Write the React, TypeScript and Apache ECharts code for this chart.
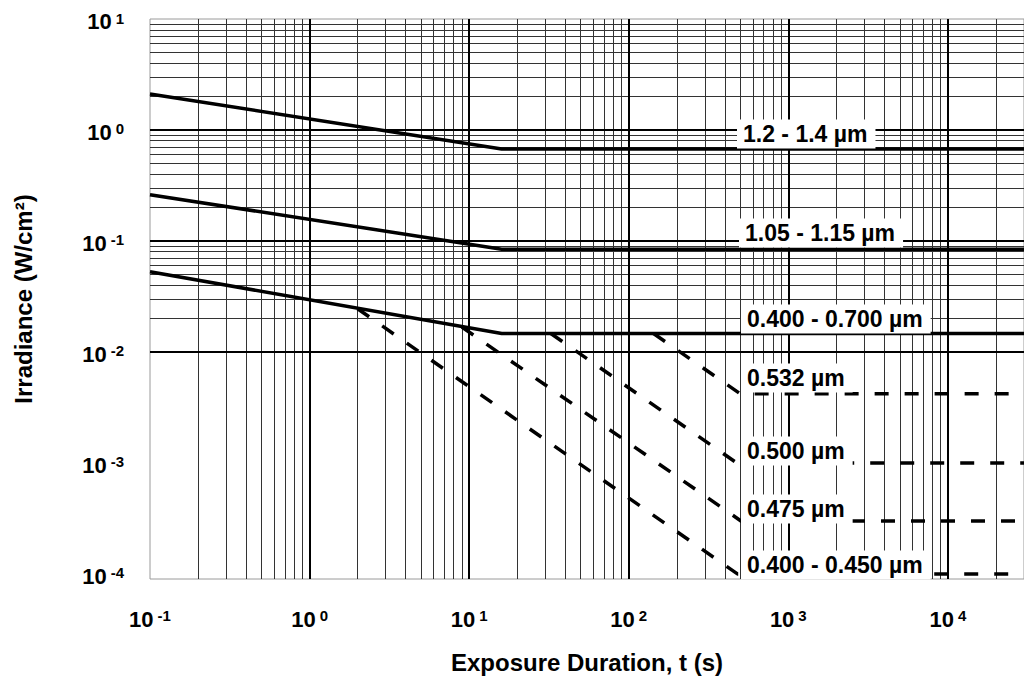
import React, { useEffect, useRef } from "react";
import * as echarts from "echarts";

// ---- data ----
const bandLabels = [
  "1.2 - 1.4 µm",
  "1.05 - 1.15 µm",
  "0.400 - 0.700 µm",
  "0.532 µm",
  "0.500 µm",
  "0.475 µm",
  "0.400 - 0.450 µm",
];
const band1200to1400: [number, number][] = [[0.1, 2.11], [16, 0.673], [30000, 0.673]];
const band1050to1150: [number, number][] = [[0.1, 0.261], [16, 0.0843], [30000, 0.0843]];
const band400to700: [number, number][] = [[0.1, 0.0528], [16, 0.01466], [30000, 0.01466]];
const line532: [number, number][] = [[143, 0.01466], [500, 0.0042], [30000, 0.0042]];
const line500: [number, number][] = [[32.5, 0.01466], [475, 0.001], [30000, 0.001]];
const line475: [number, number][] = [[9, 0.0168], [505, 0.0003], [30000, 0.0003]];
const line400to450: [number, number][] = [[2, 0.0245], [480, 0.0001], [30000, 0.0001]];

const xExponents = [-1, 0, 1, 2, 3, 4];
const yExponents = [-4, -3, -2, -1, 0, 1];
const X_MIN = 0.1;
const X_MAX = 30000;
const Y_MIN = 9e-5;
const Y_MAX = 10;

const FONT = '"Liberation Sans", Arial, Helvetica, sans-serif';

function gridValues(exps: number[], lo: number, hi: number) {
  const major: number[] = [];
  const minor: number[] = [];
  exps.forEach((e) => {
    for (let k = 1; k <= 9; k++) {
      const v = k * Math.pow(10, e);
      if (v < lo * 0.999 || v > hi * 1.001) continue;
      if (k === 1) major.push(v);
      else minor.push(v);
    }
  });
  return { major, minor };
}

function powLabel(v: number) {
  const e = Math.log10(v);
  const r = Math.round(e);
  if (Math.abs(e - r) > 1e-6) return "";
  return `{b|10}{s|${r}}`;
}

const richLabel = {
  b: {
    fontSize: 22,
    fontWeight: "bold",
    fontFamily: FONT,
    color: "#000",
    lineHeight: 22,
    verticalAlign: "bottom",
    padding: [4, 0, 0, 0],
  },
  s: {
    fontSize: 15,
    fontWeight: "bold",
    fontFamily: FONT,
    color: "#000",
    lineHeight: 15,
    verticalAlign: "top",
    padding: [0, 0, 0, 4],
  },
};

export default function App() {
  const ref = useRef<HTMLDivElement>(null);
  useEffect(() => {
    if (!ref.current) return;
    const chart = echarts.init(ref.current, undefined, { renderer: "svg" });

    const gx = gridValues(xExponents, X_MIN, X_MAX);
    const gy = gridValues(yExponents, Y_MIN, Y_MAX);
    // frame edges drawn by grid border
    const majorX = gx.major.filter((v) => v > X_MIN * 1.001);
    const majorY = gy.major.filter((v) => v < Y_MAX * 0.999);

    const gridLineData: any[] = [];
    gx.minor.forEach((v) => gridLineData.push({ xAxis: v, lineStyle: { color: "#333", width: 1, type: "solid" } }));
    gy.minor.forEach((v) => gridLineData.push({ yAxis: v, lineStyle: { color: "#333", width: 1, type: "solid" } }));
    majorX.forEach((v) => gridLineData.push({ xAxis: v, lineStyle: { color: "#000", width: 2, type: "solid" } }));
    majorY.forEach((v) => gridLineData.push({ yAxis: v, lineStyle: { color: "#000", width: 2, type: "solid" } }));

    const solid = (name: string, data: [number, number][]) => ({
      name,
      type: "line",
      data,
      symbol: "none",
      showSymbol: false,
      z: 5,
      lineStyle: { color: "#000", width: 3.5, type: "solid" },
    });
    const dashed = (name: string, data: [number, number][]) => ({
      name,
      type: "line",
      data,
      symbol: "none",
      showSymbol: false,
      z: 5,
      lineStyle: { color: "#000", width: 3.5, type: [14, 16] },
    });

    const labelPos = [
      [737, 134],
      [739, 233],
      [741, 319],
      [741, 378],
      [741, 451],
      [741, 509],
      [741, 565],
    ];

    chart.setOption({
      animation: false,
      backgroundColor: "#fff",
      grid: {
        left: 150,
        top: 19,
        right: -6,
        bottom: 679 - 584,
        show: true,
        borderColor: "#9a9a9a",
        borderWidth: 1,
        backgroundColor: "transparent",
      },
      xAxis: {
        type: "log",
        logBase: 10,
        min: X_MIN,
        max: X_MAX,
        splitNumber: 5,
        axisLine: { show: false },
        axisTick: { show: false },
        splitLine: { show: false },
        minorSplitLine: { show: false },
        axisLabel: {
          formatter: powLabel,
          margin: 29,
          fontSize: 22,
          fontWeight: "bold",
          fontFamily: FONT,
          rich: richLabel,
          showMaxLabel: false,
        },
        name: "Exposure Duration, t (s)",
        nameLocation: "middle",
        nameGap: 71,
        nameTextStyle: { fontSize: 24, fontWeight: "bold", fontFamily: FONT, color: "#000" },
      },
      yAxis: {
        type: "log",
        logBase: 10,
        min: Y_MIN,
        max: Y_MAX,
        splitNumber: 5,
        axisLine: { show: false },
        axisTick: { show: false },
        splitLine: { show: false },
        minorSplitLine: { show: false },
        axisLabel: {
          formatter: powLabel,
          margin: 26,
          fontSize: 22,
          fontWeight: "bold",
          fontFamily: FONT,
          rich: richLabel,
          padding: [5, 0, 0, 0],
          showMinLabel: false,
        },
        name: "Irradiance (W/cm²)",
        nameLocation: "middle",
        nameGap: 115,
        nameTextStyle: { fontSize: 24, fontWeight: "bold", fontFamily: FONT, color: "#000" },
      },
      series: [
        {
          name: "grid",
          type: "line",
          data: [],
          z: 1,
          silent: true,
          markLine: {
            silent: true,
            symbol: ["none", "none"],
            label: { show: false },
            animation: false,
            data: gridLineData,
          },
        },
        solid(bandLabels[0], band1200to1400),
        solid(bandLabels[1], band1050to1150),
        solid(bandLabels[2], band400to700),
        dashed(bandLabels[3], line532),
        dashed(bandLabels[4], line500),
        dashed(bandLabels[5], line475),
        dashed(bandLabels[6], line400to450),
      ],
      graphic: bandLabels.map((t, i) => ({
        type: "text",
        x: labelPos[i][0],
        y: labelPos[i][1],
        z: 100,
        silent: true,
        style: {
          text: t,
          fill: "#000",
          font: `bold 23px ${FONT}`,
          align: "left",
          verticalAlign: "middle",
          backgroundColor: "#fff",
          padding: [3, 8, 3, 6],
        },
      })),
    });
    return () => chart.dispose();
  }, []);
  return (
    <div
      ref={ref}
      style={{ position: "fixed", left: 0, top: 0, width: 1024, height: 679, background: "#fff" }}
    />
  );
}
